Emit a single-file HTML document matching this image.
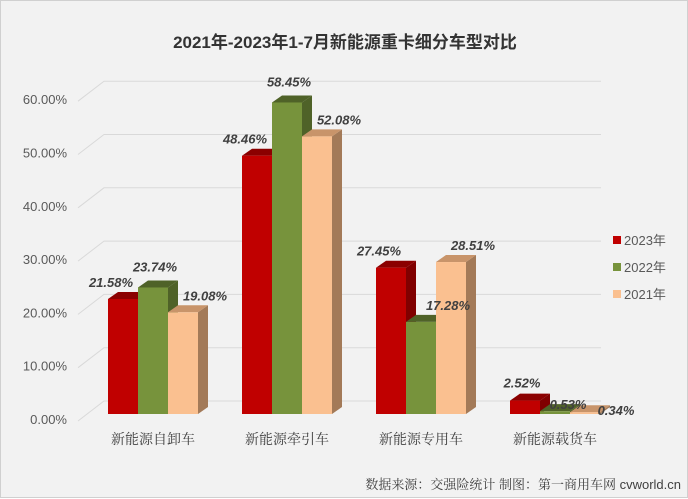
<!DOCTYPE html>
<html><head><meta charset="utf-8"><style>
body{margin:0;background:#fff}
#c{width:688px;height:498px;position:relative;background:#f2f2f2;border:1px solid #d0d0d0;box-sizing:border-box;font-family:"Liberation Sans","Noto Sans CJK SC",sans-serif}
</style></head><body>
<div id="c">
<svg id="s" width="688" height="498" xmlns="http://www.w3.org/2000/svg" style="position:absolute;left:0;top:0"></svg>
</div>
<script>
const categories=["新能源自卸车","新能源牵引车","新能源专用车","新能源载货车"];
const series=["2023年","2022年","2021年"];
const v2023=[21.58,48.46,27.45,2.52];
const v2022=[23.74,58.45,17.28,0.53];
const v2021=[19.08,52.08,28.51,0.34];
const ticks=[0,10,20,30,40,50,60];
const vals=[v2023,v2022,v2021];
const front=["#c00000","#77933c","#fac090"],top_=["#8b0000","#4f6228","#c8946a"],side=["#800000","#4f6228","#a37a58"];
const s=document.getElementById('s');const NS="http://www.w3.org/2000/svg";
function el(t,a,txt){const e=document.createElementNS(NS,t);for(const k in a)e.setAttribute(k,a[k]);if(txt!==undefined)e.textContent=txt;s.appendChild(e);return e;}
const y=v=>413-5.33*v;
const gx=i=>107+i*134;
let t=el('text',{x:344,y:47,'text-anchor':'middle','font-size':17,'font-weight':'bold',fill:'#333'},"2021年-2023年1-7月新能源重卡细分车型对比");

ticks.forEach(v=>{
 const yb=y(v)-13, yf=y(v)+7;
 let l=el('polyline',{points:`77,${yf} 103,${yb} 600,${yb}`,fill:'none',stroke:'#d9d9d9','stroke-width':1});
 
 let tx=el('text',{x:66,y:y(v)+10,'text-anchor':'end','font-size':13,fill:'#595959'},v.toFixed(2)+"%");
 
});
categories.forEach((c,i)=>{
 for(let k=0;k<3;k++){
  const x0=gx(i)+k*30,w=30,v=vals[k][i],yt=y(v),dx=10,dy=7;
  let sd=el('polygon',{points:`${x0+w},${yt} ${x0+w+dx},${yt-dy} ${x0+w+dx},${413-dy} ${x0+w},413`,fill:side[k]});
  
  let tp=el('polygon',{points:`${x0},${yt} ${x0+dx},${yt-dy} ${x0+w+dx},${yt-dy} ${x0+w},${yt}`,fill:top_[k]});
  
  let r=el('rect',{x:x0,y:yt,width:w,height:413-yt,fill:front[k]});
  
 }
 let cl=el('text',{x:gx(i)+45,y:443,'text-anchor':'middle','font-size':14,fill:'#404040','font-family':'"Liberation Serif","Noto Serif CJK SC",serif'},c);
 
});
categories.forEach((c,i)=>{
 for(let k=0;k<3;k++){
  const x0=gx(i)+k*30,w=30,v=vals[k][i],yt=y(v);
  let lx=x0+w/2+(k==2?22:(k==1?2:-12)),ly=yt-12-(k==1?4:0);
  if(i==2&&k==1){lx=x0+w+12;ly=yt-12;}
  if(i==3){lx=[x0+12,x0+28,x0+46][k];ly=[yt-13,yt-2,yt+3][k];}
  let lb=el('text',{x:lx,y:ly,'text-anchor':'middle','font-size':13,'font-weight':'bold','font-style':'italic',fill:'#404040'},v.toFixed(2)+"%");
  
 }
});
series.forEach((n,k)=>{
 let r=el('rect',{x:612,y:235+k*27,width:8,height:8,fill:front[k]});
 
 let tx=el('text',{x:623,y:244+k*27,'font-size':13,fill:'#595959'},n);
 
});
let src=el('text',{x:680,y:488,'text-anchor':'end','font-size':13,fill:'#404040','font-family':'"Liberation Sans","Noto Serif CJK SC",serif'},"数据来源：交强险统计  制图：第一商用车网 cvworld.cn");

</script>
</body></html>
